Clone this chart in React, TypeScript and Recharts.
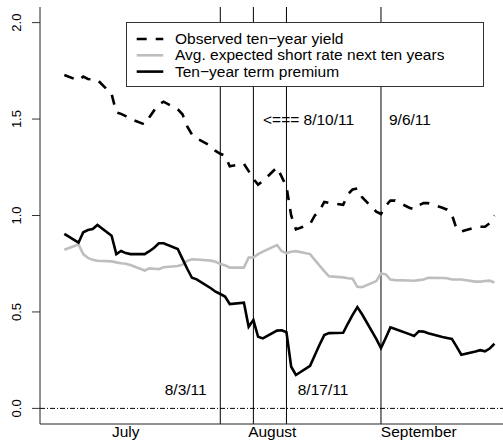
import React from 'react';
import { LineChart, Line, XAxis, YAxis, ReferenceLine, ReferenceDot, Legend } from 'recharts';

// ---------- data ----------
const dates = [
  '2011-07-01', '2011-07-04', '2011-07-05', '2011-07-06', '2011-07-07', '2011-07-08',
  '2011-07-11', '2011-07-12', '2011-07-13', '2011-07-14', '2011-07-15',
  '2011-07-18', '2011-07-19', '2011-07-20', '2011-07-21', '2011-07-22',
  '2011-07-25', '2011-07-26', '2011-07-27', '2011-07-28', '2011-07-29',
  '2011-08-01', '2011-08-02', '2011-08-03', '2011-08-04', '2011-08-05',
  '2011-08-08', '2011-08-09', '2011-08-10', '2011-08-11', '2011-08-12',
  '2011-08-15', '2011-08-16', '2011-08-17', '2011-08-18', '2011-08-19',
  '2011-08-22', '2011-08-23', '2011-08-24', '2011-08-25', '2011-08-26',
  '2011-08-29', '2011-08-30', '2011-08-31',
  '2011-09-01', '2011-09-02', '2011-09-05', '2011-09-06', '2011-09-07', '2011-09-08', '2011-09-09',
  '2011-09-12', '2011-09-13', '2011-09-14', '2011-09-15', '2011-09-16',
  '2011-09-19', '2011-09-20', '2011-09-21', '2011-09-22', '2011-09-23',
  '2011-09-26', '2011-09-27', '2011-09-28', '2011-09-29', '2011-09-30',
];

const observedYield = [
  1.728, 1.700, 1.720, 1.708, 1.705, 1.703,
  1.630, 1.535, 1.527, 1.515, 1.500,
  1.472, 1.510, 1.545, 1.575, 1.590,
  1.550, 1.525, 1.462, 1.420, 1.400,
  1.360, 1.335, 1.320, 1.310, 1.255,
  1.268, 1.230, 1.190, 1.160, 1.178,
  1.250, 1.200, 1.150, 1.000, 0.928,
  0.955, 1.000, 1.025, 1.070, 1.065,
  1.055, 1.110, 1.135,
  1.140, 1.095, 1.020, 1.008, 1.050, 1.078, 1.077,
  1.040, 1.032, 1.053, 1.065, 1.064,
  1.040, 1.030, 1.005, 0.930, 0.917,
  0.938, 0.942, 0.942, 0.960, 1.000,
];

const expectedShortRate = [
  0.822, 0.850, 0.800, 0.780, 0.770, 0.765,
  0.762, 0.757, 0.752, 0.750, 0.743,
  0.715, 0.726, 0.724, 0.722, 0.732,
  0.738, 0.745, 0.765, 0.773, 0.772,
  0.766, 0.760, 0.748, 0.742, 0.730,
  0.730, 0.782, 0.783, 0.800, 0.813,
  0.847, 0.815, 0.805, 0.812, 0.815,
  0.800, 0.770, 0.740, 0.712, 0.685,
  0.679, 0.675, 0.672,
  0.630, 0.628, 0.660, 0.700, 0.695, 0.668, 0.665,
  0.663, 0.662, 0.665, 0.668, 0.677,
  0.676, 0.675, 0.668, 0.668, 0.668,
  0.657, 0.657, 0.660, 0.662, 0.653,
];

const termPremium = [
  0.905, 0.859, 0.913, 0.925, 0.930, 0.951,
  0.895, 0.800, 0.816, 0.805, 0.800,
  0.800, 0.815, 0.833, 0.856, 0.856,
  0.826, 0.775, 0.724, 0.677, 0.669,
  0.623, 0.605, 0.593, 0.580, 0.541,
  0.548, 0.423, 0.458, 0.371, 0.363,
  0.403, 0.405, 0.395, 0.216, 0.173,
  0.221, 0.275, 0.330, 0.380, 0.390,
  0.392, 0.440, 0.485,
  0.525, 0.488, 0.360, 0.313, 0.365, 0.420, 0.412,
  0.385, 0.375, 0.400, 0.398, 0.390,
  0.370, 0.365, 0.360, 0.320, 0.278,
  0.295, 0.302, 0.296, 0.310, 0.335,
];

const seriesNames = [
  'Observed ten\u2212year yield',
  'Avg. expected short rate next ten years',
  'Ten\u2212year term premium',
];

const eventDates = ['2011-08-03', '2011-08-10', '2011-08-17', '2011-09-06'];
const eventLabels = ['8/3/11', '<=== 8/10/11', '8/17/11', '9/6/11'];
const eventLabelValues = [0.1, 1.5, 0.1, 1.5];

const monthTickDates = ['2011-07-14', '2011-08-14', '2011-09-14'];
const monthTickLabels = ['July', 'August', 'September'];

const yTicks = [0, 0.5, 1, 1.5, 2];

// ---------- helpers ----------
const ORIGIN = Date.UTC(2011, 6, 1);
const dayOf = (s: string) => {
  const [y, m, d] = s.split('-').map(Number);
  return (Date.UTC(y, m - 1, d) - ORIGIN) / 86400000;
};

const rows = dates.map((d, i) => ({
  x: dayOf(d),
  yld: observedYield[i],
  esr: expectedShortRate[i],
  tp: termPremium[i],
}));

const monthTicks = monthTickDates.map(dayOf);
const FONT = '"Liberation Sans", Arial, Helvetica, sans-serif';
const X_DOMAIN: [number, number] = [-5.15, 92.82];
const Y_DOMAIN: [number, number] = [-0.081, 2.081];

// label styling (placement relative to the event line)
const labelStyle = [
  { dx: -13.6, anchor: 'end' },
  { dx: 9.7, anchor: 'start' },
  { dx: 11.3, anchor: 'start' },
  { dx: 8, anchor: 'start' },
];

const XTick = (props: any) => {
  const { x, y, payload } = props;
  const idx = monthTicks.indexOf(payload.value);
  return (
    <text x={x} y={y + 13} textAnchor="middle" fontSize={15.5} fontFamily={FONT} fill="#000">
      {monthTickLabels[idx]}
    </text>
  );
};

const YTick = (props: any) => {
  const { x, y, payload } = props;
  const bx = x - 11.3;
  return (
    <text
      x={bx}
      y={y}
      transform={`rotate(-90 ${bx} ${y})`}
      textAnchor="middle"
      fontSize={13}
      fontFamily={FONT}
      fill="#000"
    >
      {Number(payload.value).toFixed(1)}
    </text>
  );
};

const legendStyles = [
  { stroke: '#000', dash: '10 9' },
  { stroke: '#bebebe', dash: undefined },
  { stroke: '#000', dash: undefined },
];

const LegendBox = () => (
  <div
    style={{
      width: 358,
      height: 65,
      boxSizing: 'border-box',
      border: '1px solid #333',
      background: '#fff',
    }}
  >
    <svg width={356} height={63} style={{ display: 'block' }}>
      {seriesNames.map((name, i) => {
        const cy = 16 + i * 16.3;
        return (
          <g key={name}>
            <line
              x1={9.7}
              x2={36.3}
              y1={cy}
              y2={cy}
              stroke={legendStyles[i].stroke}
              strokeWidth={2.6}
              strokeDasharray={legendStyles[i].dash}
            />
            <text x={48} y={cy + 5} fontSize={15.5} fontFamily={FONT} fill="#000">
              {name}
            </text>
          </g>
        );
      })}
    </svg>
  </div>
);

export default function App() {
  return (
    <div style={{ position: 'absolute', left: 0, top: 0, width: 503, height: 440, overflow: 'hidden', background: '#fff' }}>
      <LineChart width={503} height={440} data={rows} margin={{ top: 7, right: 0, bottom: 0, left: 0 }}>
        <XAxis
          dataKey="x"
          type="number"
          domain={X_DOMAIN}
          allowDataOverflow
          ticks={monthTicks}
          height={16}
          tickSize={0}
          tickMargin={0}
          tickLine={false}
          axisLine={{ stroke: '#222' }}
          tick={<XTick />}
          interval={0}
        />
        <XAxis
          xAxisId="top"
          orientation="top"
          dataKey="x"
          type="number"
          domain={X_DOMAIN}
          allowDataOverflow
          height={0}
          tick={false}
          tickLine={false}
          axisLine={{ stroke: '#222' }}
        />
        <YAxis
          type="number"
          domain={Y_DOMAIN}
          allowDataOverflow
          ticks={yTicks}
          width={40}
          tickSize={8}
          tickMargin={0}
          tickLine={{ stroke: '#333' }}
          axisLine={{ stroke: '#222' }}
          tick={<YTick />}
          interval={0}
        />
        <ReferenceLine y={0} stroke="#000" strokeWidth={1} strokeDasharray="5 2 1 2" />
        {eventDates.map((d) => (
          <ReferenceLine key={d} x={dayOf(d)} stroke="#000" strokeWidth={1} />
        ))}
        <Line
          dataKey="yld"
          name={seriesNames[0]}
          type="linear"
          stroke="#000"
          strokeWidth={2.6}
          strokeDasharray="10 9"
          dot={false}
          activeDot={false}
          isAnimationActive={false}
        />
        <Line
          dataKey="esr"
          name={seriesNames[1]}
          type="linear"
          stroke="#bebebe"
          strokeWidth={2.6}
          dot={false}
          activeDot={false}
          isAnimationActive={false}
        />
        <Line
          dataKey="tp"
          name={seriesNames[2]}
          type="linear"
          stroke="#000"
          strokeWidth={2.6}
          dot={false}
          activeDot={false}
          isAnimationActive={false}
        />
        {eventDates.map((d, i) => (
          <ReferenceDot
            key={'lbl' + d}
            x={dayOf(d)}
            y={eventLabelValues[i]}
            r={0}
            fill="none"
            stroke="none"
            label={(p: any) => {
              const vb = p.viewBox || {};
              return (
                <text
                  x={(vb.x ?? 0) + labelStyle[i].dx}
                  y={(vb.y ?? 0) + 5.8}
                  textAnchor={labelStyle[i].anchor as any}
                  fontSize={15.5}
                  fontFamily={FONT}
                  fill="#000"
                >
                  {eventLabels[i]}
                </text>
              );
            }}
          />
        ))}
        <Legend
          layout="horizontal"
          verticalAlign="middle"
          align="center"
          wrapperStyle={{ position: 'absolute', left: 126, top: 22, width: 358, height: 65 }}
          content={() => <LegendBox />}
        />
      </LineChart>
    </div>
  );
}
